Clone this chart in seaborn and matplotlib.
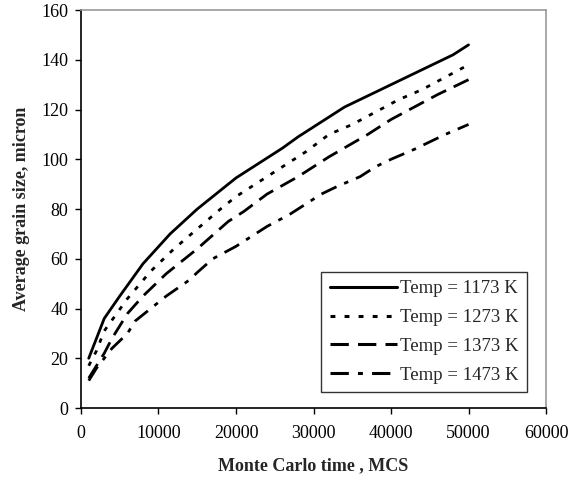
import numpy as np
import pandas as pd
import seaborn as sns
import matplotlib.pyplot as plt

# Grain growth curves
x_1173 = [1000, 3000, 5000, 8000, 11500, 15000, 18000, 20000, 22000, 24000, 26000, 28000,
          30000, 32000, 34000, 36000, 38000, 40000, 42000, 44000, 46000, 48000, 50000]
y_1173 = [20, 36, 45, 58, 70, 80, 87.5, 92.5, 96.5, 100.5, 104.5, 109,
          113, 117, 121, 124, 127, 130, 133, 136, 139, 142, 146]

x_1273 = [1000, 2000, 3000, 6000, 9000, 12000, 15000, 18000, 20000, 23000, 26000, 29000,
          32000, 35000, 38000, 41000, 44000, 47000, 50000]
y_1273 = [17, 23, 31, 44, 55, 64, 72, 80, 85, 91, 97, 103,
          110, 114, 119, 124, 128, 133, 138]

x_1373 = [1000, 2000, 3000, 4000, 6000, 8000, 11000, 15000, 19000, 21000, 24000, 28000,
          32000, 37000, 40000, 43000, 46000, 50000]
y_1373 = [12, 17, 22, 28, 38, 45, 54, 64, 75, 79, 86, 93,
          101, 110, 116, 121, 126, 132]

x_1473 = [1000, 2000, 3000, 4000, 6000, 7000, 9000, 11000, 14000, 15000, 17000, 20000,
          22000, 24000, 27000, 29000, 31000, 33000, 36000, 38000, 40000, 43000, 45000,
          47000, 50000]
y_1473 = [11, 16, 20, 24, 30, 35, 40, 45, 51.5, 54.5, 60, 65,
          69, 73, 78, 82, 86, 89, 93, 97, 100, 104, 107, 110, 114]

labels = ["Temp = 1173 K", "Temp = 1273 K", "Temp = 1373 K", "Temp = 1473 K"]

sns.set_style("white")
plt.rcParams['font.family'] = ['Liberation Serif', 'DejaVu Serif']

fig = plt.figure(figsize=(5.76, 4.78), dpi=100)
ax = fig.add_axes([0.1406, 0.1464, 0.8074, 0.8326])

series = [(x_1173, y_1173), (x_1273, y_1273), (x_1373, y_1373), (x_1473, y_1473)]
dash_styles = [None, (1.6, 3), (6, 3), (6, 3, 1.6, 3)]

for (xs, ys), lab, dsh in zip(series, labels, dash_styles):
    sns.lineplot(x=xs, y=ys, ax=ax, color="black", linewidth=2.0, label=lab)
    if dsh is not None:
        ax.lines[-1].set_dashes(dsh)

ax.set_xlim(0, 60000)
ax.set_ylim(0, 160)
ax.set_xticks(np.arange(0, 60001, 10000))
ax.set_yticks(np.arange(0, 161, 20))
ax.tick_params(direction="out", length=4, width=1, colors="black", labelsize=13,
               pad=5, bottom=True, left=True)
ax.tick_params(axis="x", pad=8)

for side in ["left", "bottom"]:
    ax.spines[side].set_color("black")
    ax.spines[side].set_linewidth(1.2)
for side in ["top", "right"]:
    ax.spines[side].set_color("#999999")
    ax.spines[side].set_linewidth(1.2)

ax.set_xlabel("Monte Carlo time , MCS", fontsize=13, fontweight="bold", labelpad=11)
ax.set_ylabel("Average grain size, micron", fontsize=13, fontweight="bold", labelpad=8)

leg = ax.legend(loc="lower right", bbox_to_anchor=(0.959, 0.04), fontsize=13.5,
                frameon=True, fancybox=False, handlelength=3.6, handletextpad=0.15,
                borderpad=0.45, labelspacing=0.62, borderaxespad=0)
leg.get_frame().set_edgecolor("black")
leg.get_frame().set_linewidth(1)
for h in leg.get_lines():
    h.set_linewidth(2.2)

fig.savefig("out.png", dpi=100)
